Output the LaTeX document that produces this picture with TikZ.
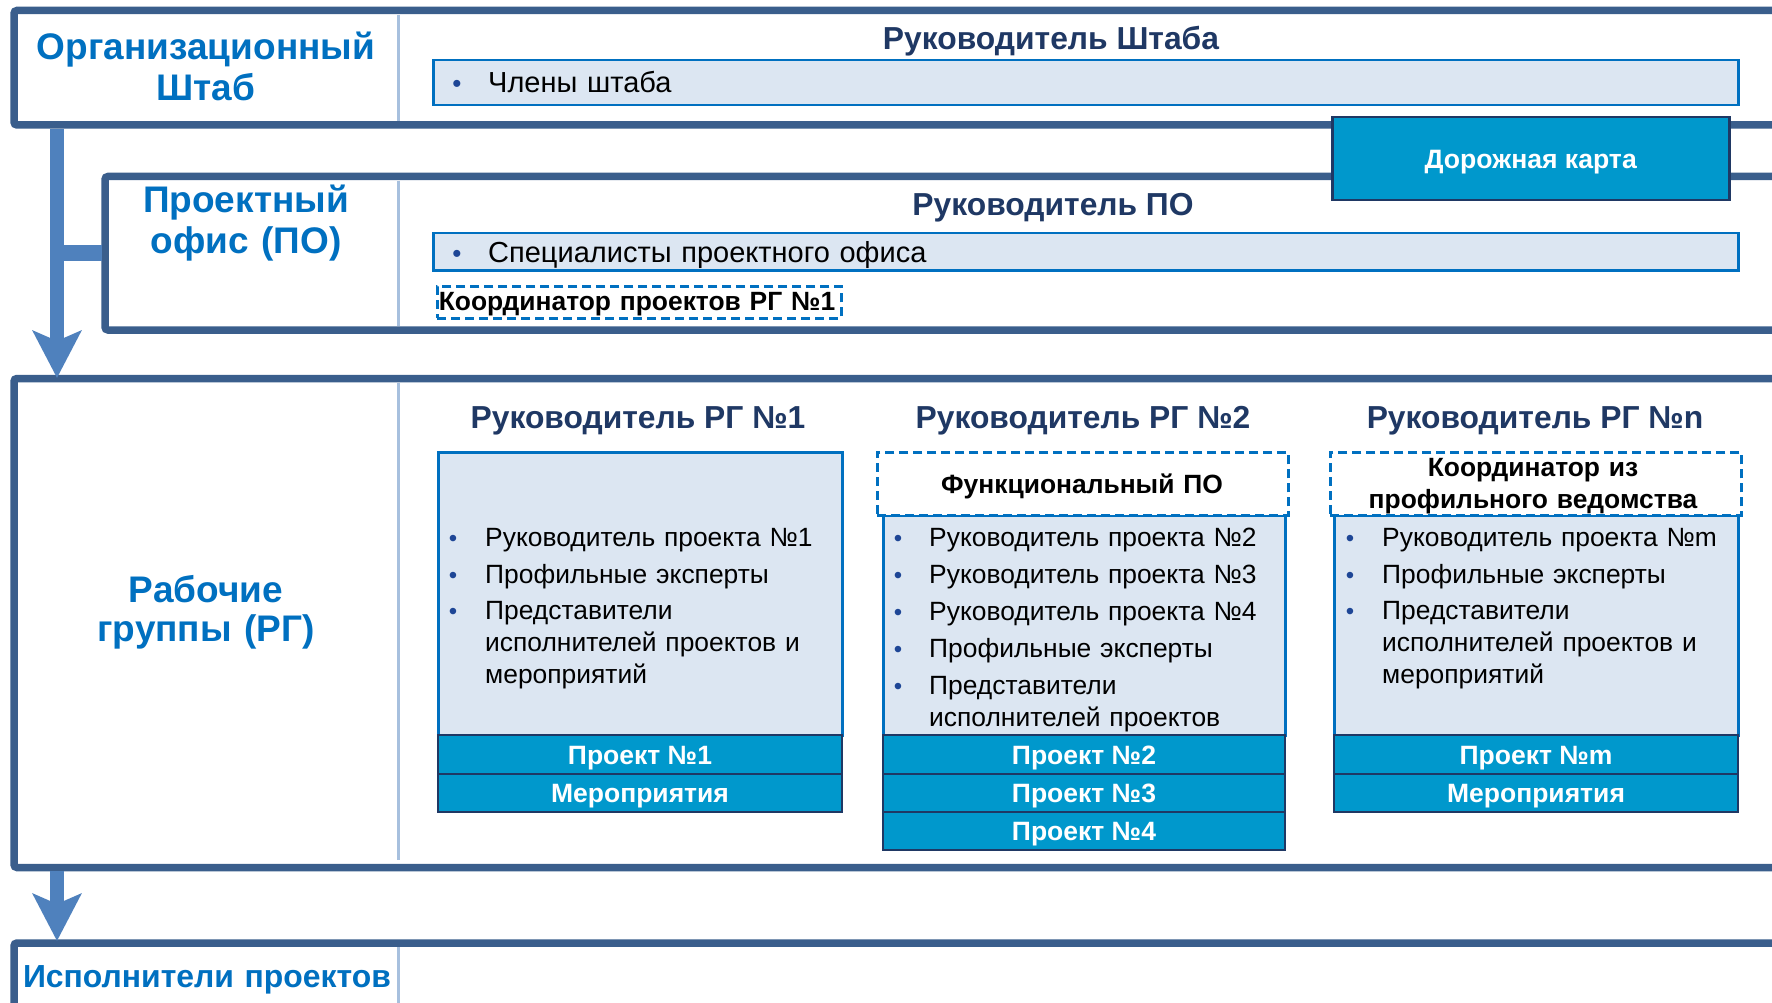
\documentclass[tikz,border=0pt]{standalone}
\usepackage{fontspec}
\setmainfont{Liberation Sans}
\usetikzlibrary{arrows.meta}
\definecolor{frameC}{RGB}{58,94,140}
\definecolor{arrowC}{RGB}{79,129,189}
\definecolor{divC}{RGB}{167,192,222}
\definecolor{titleC}{RGB}{0,112,192}
\definecolor{navyC}{RGB}{31,56,100}
\definecolor{lightC}{RGB}{220,230,242}
\definecolor{boxC}{RGB}{0,112,192}
\definecolor{projC}{RGB}{0,152,204}
\definecolor{darkC}{RGB}{31,56,100}
\definecolor{bulC}{RGB}{30,70,150}
\newcommand\fsz[2]{\fontsize{#1}{#2}\selectfont}
\begin{document}
\begin{tikzpicture}[x=1pt,y=-1pt,
  frameline/.style={draw=frameC, line width=7.5pt, rounded corners=3pt},
  divider/.style={draw=divC, line width=3pt},
  ttl/.style={text=titleC, font=\fsz{37}{40}\bfseries, align=center, text width=420pt, anchor=base, inner sep=0pt},
  head/.style={text=navyC, font=\fsz{31.8}{34}\bfseries, anchor=base, inner sep=0pt},
  lightbox/.style={draw=boxC, fill=lightC, line width=2.5pt, inner sep=0pt, anchor=north west},
  dashbox/.style={draw=boxC, fill=white, line width=2.5pt, dash pattern=on 9pt off 5pt, inner sep=0pt, anchor=north west},
  projbar/.style={draw=darkC, fill=projC, line width=2pt, inner sep=0pt, anchor=north west, text=white,
    font=\fsz{26.5}{30}\bfseries, text height=19pt, text depth=0pt},
  bul/.style={text=bulC, font=\fsz{24}{32}, anchor=base, inner sep=0pt},
  itm/.style={font=\fsz{26.4}{32}, anchor=base west, inner sep=0pt, text width=350pt, align=left},
  blk/.style={font=\fsz{26.4}{32}\bfseries, anchor=base, inner sep=0pt, align=center, text width=420pt},
  bigarrow/.style={draw=arrowC, line width=14.5pt, -{Stealth[length=47pt, width=48pt, inset=10pt]}},
  branch/.style={draw=arrowC, line width=16pt}
]
\useasboundingbox (0,0) rectangle (1772,1003);
\clip (0,0) rectangle (1772,1003);
\fill[white] (0,0) rectangle (1772,1003);

% ---------- frames ----------
\draw[frameline] (1800,10.5) -- (14,10.5) -- (14,125) -- (1800,125);
\draw[frameline] (1800,176.5) -- (105,176.5) -- (105,330) -- (1800,330);
\draw[frameline] (1800,378.5) -- (14,378.5) -- (14,867.5) -- (1800,867.5);
\draw[frameline] (1800,943) -- (14,943) -- (14,1030);

% dividers
\draw[divider] (398,15) -- (398,121);
\draw[divider] (398,181) -- (398,326);
\draw[divider] (398,383) -- (398,860);
\draw[divider] (398,947) -- (398,1003);

% ---------- connectors ----------
\coordinate (a1s) at (57,129);
\coordinate (a1e) at (57,378);
\coordinate (br1) at (57,253);
\coordinate (br2) at (102,253);
\coordinate (a2s) at (57,871);
\coordinate (a2e) at (57,941);
\draw[branch] (br1) -- (br2);
\draw[bigarrow] (a1s) -- (a1e);
\draw[bigarrow] (a2s) -- (a2e);

% ---------- section titles ----------
\node[ttl, font=\fsz{37}{41}\bfseries] (tOrg) at (206,60) {Организационный\\Штаб};
\node[ttl, font=\fsz{37}{42}\bfseries] (tPO) at (246,212) {Проектный\\офис (ПО)};
\node[ttl, font=\fsz{37}{39}\bfseries] (tRG) at (206,602) {Рабочие\\группы (РГ)};
\node[ttl, font=\fsz{31.9}{38}\bfseries] (tIsp) at (207,987) {Исполнители проектов};

% ---------- Штаб ----------
\node[head] (hShtab) at (1051,50) {Руководитель Штаба};
\node[lightbox, minimum width=1305pt, minimum height=45pt] (bChl) at (432,59) {};
\node[bul, font=\fsz{26}{32}] (uChl) at (457,93) {•};
\node[itm, font=\fsz{29}{32}] (iChl) at (488,93) {Члены штаба};

% ---------- Дорожная карта ----------
\node[draw=darkC, fill=projC, line width=2.5pt, inner sep=0pt, anchor=north west,
      minimum width=397pt, minimum height=83pt, text=white, font=\fsz{26.6}{32}\bfseries,
      text height=20pt, text depth=0pt]
      (road) at (1331,116) {Дорожная карта};

% ---------- ПО ----------
\node[head] (hPO) at (1053,215) {Руководитель ПО};
\node[lightbox, minimum width=1305pt, minimum height=37pt] (bSpec) at (432,232) {};
\node[bul, font=\fsz{26}{32}] (uSpec) at (457,262) {•};
\node[itm, font=\fsz{29}{32}, text width=600pt] (iSpec) at (488,262) {Специалисты проектного офиса};
\node[dashbox, minimum width=404pt, minimum height=32pt] (bKoord) at (436,285) {};
\node[blk] (tKoord) at (637,310) {Координатор проектов РГ №1};

% ---------- РГ column 1 ----------
\node[head] (h1) at (638,428) {Руководитель РГ №1};
\node[lightbox, minimum width=404pt, minimum height=283pt] (b1) at (437,451) {};
\node[projbar, minimum width=404pt, minimum height=39pt] (p1a) at (437,734) {Проект №1};
\node[projbar, minimum width=404pt, minimum height=38pt] (p1b) at (437,773) {Мероприятия};
\node[bul] (u1a) at (453,546) {•};
\node[itm] (i1a) at (485,546) {Руководитель проекта №1};
\node[bul] (u1b) at (453,583) {•};
\node[itm] (i1b) at (485,583) {Профильные эксперты};
\node[bul] (u1c) at (453,619) {•};
\node[itm] (i1c) at (485,619) {Представители\\исполнителей проектов и\\мероприятий};

% ---------- РГ column 2 ----------
\node[head] (h2) at (1083,428) {Руководитель РГ №2};
\node[lightbox, minimum width=402pt, minimum height=220pt] (b2) at (882,514) {};
\node[dashbox, minimum width=411pt, minimum height=63pt] (d2) at (876,451) {};
\node[blk] (t2) at (1082,493) {Функциональный ПО};
\node[projbar, minimum width=402pt, minimum height=39pt] (p2a) at (882,734) {Проект №2};
\node[projbar, minimum width=402pt, minimum height=38pt] (p2b) at (882,773) {Проект №3};
\node[projbar, minimum width=402pt, minimum height=38pt] (p2c) at (882,811) {Проект №4};
\node[bul] (u2a) at (898,546) {•};
\node[itm] (i2a) at (929,546) {Руководитель проекта №2};
\node[bul] (u2b) at (898,583) {•};
\node[itm] (i2b) at (929,583) {Руководитель проекта №3};
\node[bul] (u2c) at (898,620) {•};
\node[itm] (i2c) at (929,620) {Руководитель проекта №4};
\node[bul] (u2d) at (898,657) {•};
\node[itm] (i2d) at (929,657) {Профильные эксперты};
\node[bul] (u2e) at (898,694) {•};
\node[itm] (i2e) at (929,694) {Представители\\исполнителей проектов};

% ---------- РГ column n ----------
\node[head] (h3) at (1535,428) {Руководитель РГ №n};
\node[lightbox, minimum width=404pt, minimum height=220pt] (b3) at (1333,514) {};
\node[dashbox, minimum width=411pt, minimum height=63pt] (d3) at (1329,451) {};
\node[blk] (t3) at (1533,476) {Координатор из\\профильного ведомства};
\node[projbar, minimum width=404pt, minimum height=39pt] (p3a) at (1333,734) {Проект №m};
\node[projbar, minimum width=404pt, minimum height=38pt] (p3b) at (1333,773) {Мероприятия};
\node[bul] (u3a) at (1350,546) {•};
\node[itm] (i3a) at (1382,546) {Руководитель проекта №m};
\node[bul] (u3b) at (1350,583) {•};
\node[itm] (i3b) at (1382,583) {Профильные эксперты};
\node[bul] (u3c) at (1350,619) {•};
\node[itm] (i3c) at (1382,619) {Представители\\исполнителей проектов и\\мероприятий};
\end{tikzpicture}
\end{document}
